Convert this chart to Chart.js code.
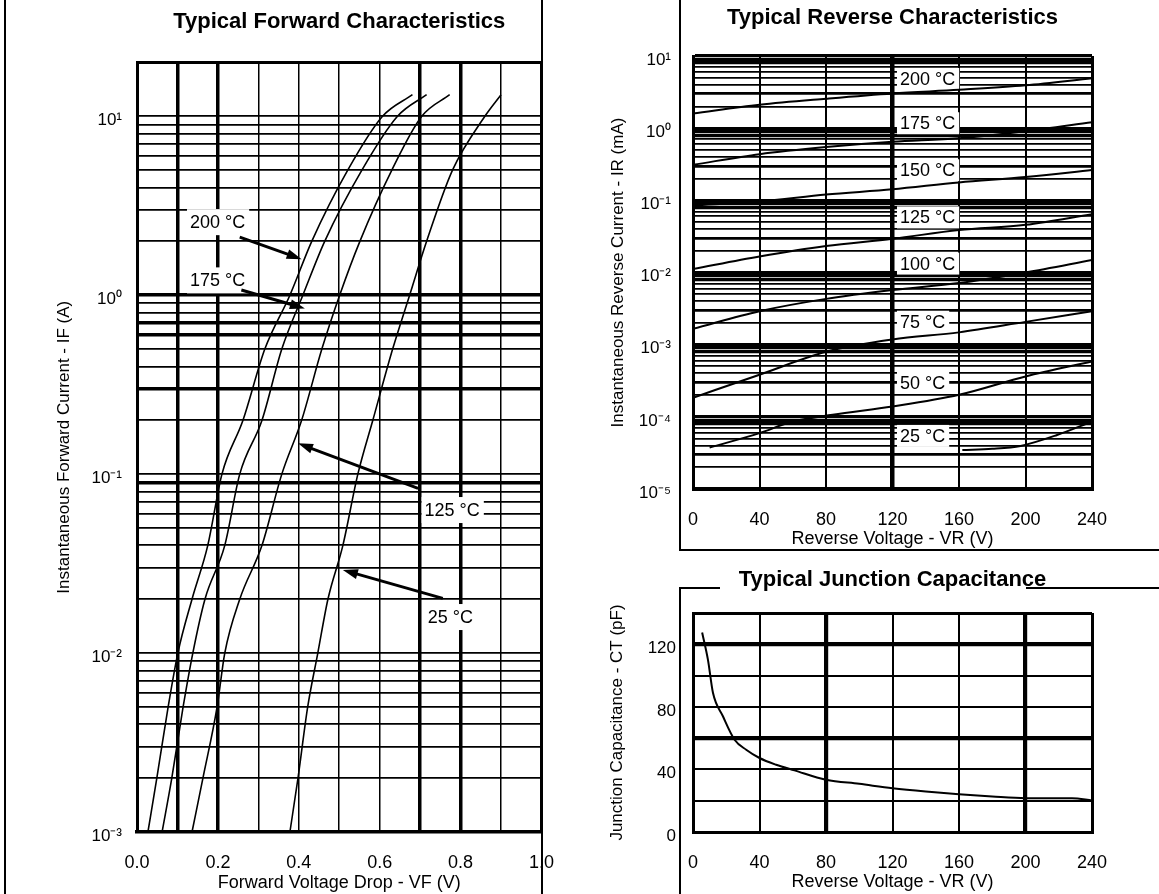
<!DOCTYPE html>
<html>
<head>
<meta charset="utf-8">
<script src="https://cdn.jsdelivr.net/npm/chart.js@4.4.1/dist/chart.umd.min.js"></script>
<style>
  html, body { margin: 0; padding: 0; background: #fff; }
  #page { position: relative; width: 1159px; height: 894px; overflow: hidden; background: #fff; }
  canvas { position: absolute; }
  .rule { position: absolute; background: #000; z-index: 2; }
</style>
</head>
<body>
<div id="page">
  <canvas id="fwd" width="574" height="894" style="left:0;top:0"></canvas>
  <canvas id="rev" width="569" height="552" style="left:590px;top:0"></canvas>
  <canvas id="cap" width="569" height="334" style="left:590px;top:560px"></canvas>
  <!-- page frame lines of the scanned sheet -->
  <div class="rule" style="left:4px;top:0;width:2px;height:894px"></div>
  <div class="rule" style="left:541px;top:0;width:2px;height:894px"></div>
  <div class="rule" style="left:679px;top:0;width:2px;height:550px"></div>
  <div class="rule" style="left:679px;top:549px;width:480px;height:2px"></div>
  <div class="rule" style="left:679px;top:587px;width:2px;height:307px"></div>
  <div class="rule" style="left:679px;top:587px;width:41px;height:2px"></div>
  <div class="rule" style="left:1026px;top:587px;width:133px;height:2px"></div>
</div>
<script>
// ---- forward characteristics: voltage (V) read at each current (A)
const fwdCurrent = [0.001, 0.002, 0.005, 0.01, 0.02, 0.04, 0.1, 0.2, 0.5, 1, 2, 5, 10, 13.2];
const fwd200 = [0.027, 0.049, 0.077, 0.101, 0.136, 0.175, 0.21, 0.262, 0.316, 0.378, 0.432, 0.521, 0.607, 0.681];
const fwd175 = [0.062, 0.086, 0.114, 0.138, 0.168, 0.217, 0.254, 0.309, 0.358, 0.41, 0.464, 0.556, 0.644, 0.716];
const fwd125 = [0.136, 0.163, 0.198, 0.217, 0.254, 0.309, 0.358, 0.407, 0.457, 0.501, 0.551, 0.63, 0.704, 0.773];
const fwd25 = [0.378, 0.398, 0.422, 0.447, 0.472, 0.509, 0.546, 0.583, 0.632, 0.674, 0.716, 0.78, 0.86, 0.9];
const fwdVoltTicks = [0, 0.2, 0.4, 0.6, 0.8, 1.0];

// ---- reverse characteristics: current (mA) against reverse voltage (V)
const revVolt = [0, 40, 80, 120, 160, 200, 240];
const rev200 = [1.6, 2.11, 2.56, 3.03, 3.4, 3.92, 4.92];
const rev175 = [0.311, 0.436, 0.547, 0.647, 0.724, 0.908, 1.205];
const rev150 = [0.085, 0.096, 0.12, 0.142, 0.177, 0.21, 0.263];
const rev125 = [0.0112, 0.0167, 0.0233, 0.0293, 0.0388, 0.0458, 0.0643];
const rev100 = [0.00166, 0.00291, 0.00431, 0.00571, 0.00715, 0.01, 0.0149];
const rev75 = [0.000184, 0.000383, 0.000796, 0.00118, 0.00148, 0.00207, 0.00291];
const rev50Volt = [10, 40, 60, 84, 120, 160, 200, 240];
const rev50 = [0.0000375, 0.0000594, 0.000086, 0.000107, 0.000139, 0.000202, 0.000363, 0.000586];
const rev25Volt = [162, 180, 197, 219, 240];
const rev25 = [0.0000348, 0.000036, 0.0000395, 0.000056, 0.000086];
const revVoltTicks = [0, 40, 80, 120, 160, 200, 240];

// ---- junction capacitance (pF) against reverse voltage (V)
const capVolt = [5.5, 9, 12, 18, 25, 32, 40, 50, 61, 80, 100, 120, 140, 160, 180, 200, 228, 240];
const capPf = [127.5, 110, 89, 74, 59, 52.6, 47.3, 43, 39.4, 33.4, 30.8, 28, 25.9, 24.2, 22.7, 21.6, 21.6, 20.1];
const capTicks = [0, 40, 80, 120];

const FONT = '"Liberation Sans", Arial, Helvetica, sans-serif';
Chart.defaults.font.family = FONT;
Chart.defaults.font.size = 17;
Chart.defaults.color = '#000';
const XFONT = {size: 18};

const SUP = {'-': '\u207B', '0': '\u2070', '1': '\u00B9', '2': '\u00B2', '3': '\u00B3', '4': '\u2074', '5': '\u2075'};
function decadeLabel(v) {
  const e = Math.round(Math.log10(v));
  if (Math.abs(v / Math.pow(10, e) - 1) > 1e-6) return '';
  return '10' + String(e).split('').map(c => SUP[c]).join('');
}
// every 1..9 line of each decade, like log paper
function logGrid(fromExp, toExp, extra) {
  const out = [];
  for (let e = fromExp; e < toExp; e++) {
    for (let m = 1; m <= 9; m++) out.push(+(m * Math.pow(10, e)).toPrecision(3));
  }
  return out.concat(extra);
}
function mantissa(v) {
  return Math.round(v / Math.pow(10, Math.floor(Math.log10(v) + 1e-9)));
}
function near(list, v) {
  return list.some(t => Math.abs(t - v) <= Math.abs(t) * 1e-3 + 1e-9);
}
function curve(xs, ys, w) {
  return {
    data: xs.map((x, i) => ({x: x, y: ys[i]})),
    borderColor: '#000', borderWidth: w, pointRadius: 0,
    cubicInterpolationMode: 'monotone', fill: false
  };
}

// white label boxes and the pointer arrows of the datasheet
const notesPlugin = {
  id: 'notes',
  beforeDatasetsDraw(chart, args, opts) {
    const {ctx, scales: {x, y}} = chart;
    ctx.save();
    ctx.font = '18px ' + FONT;
    ctx.textBaseline = 'middle';
    (opts.labels || []).forEach(l => {
      const px = x.getPixelForValue(l.x), py = y.getPixelForValue(l.y);
      const w = ctx.measureText(l.text).width;
      ctx.fillStyle = '#fff';
      ctx.fillRect(px - 3, py - opts.boxH / 2, w + 7, opts.boxH);
      ctx.fillStyle = '#000';
      ctx.fillText(l.text, px, py + 1);
    });
    ctx.restore();
  },
  afterDatasetsDraw(chart, args, opts) {
    const {ctx, scales: {x, y}} = chart;
    ctx.save();
    ctx.strokeStyle = '#000';
    ctx.fillStyle = '#000';
    ctx.lineWidth = 3;
    (opts.arrows || []).forEach(a => {
      const x1 = x.getPixelForValue(a.from[0]), y1 = y.getPixelForValue(a.from[1]);
      const x2 = x.getPixelForValue(a.to[0]), y2 = y.getPixelForValue(a.to[1]);
      const ang = Math.atan2(y2 - y1, x2 - x1);
      const c = Math.cos(ang), s = Math.sin(ang), head = 15, hw = 5;
      ctx.beginPath();
      ctx.moveTo(x1, y1);
      ctx.lineTo(x2 - c * head * 0.7, y2 - s * head * 0.7);
      ctx.stroke();
      ctx.beginPath();
      ctx.moveTo(x2, y2);
      ctx.lineTo(x2 - c * head + s * hw, y2 - s * head - c * hw);
      ctx.lineTo(x2 - c * head - s * hw, y2 - s * head + c * hw);
      ctx.closePath();
      ctx.fill();
    });
    ctx.restore();
  }
};

const common = {
  responsive: false,
  animation: false,
  plugins: {legend: {display: false}, tooltip: {enabled: false}}
};
function titleOpts(text, top, bottom) {
  return {display: true, text: text, fullSize: false, color: '#000',
          font: {size: 22, weight: 'bold'}, padding: {top: top, bottom: bottom}};
}

// ---------------- Typical Forward Characteristics
const fwdGrid = logGrid(-3, 1, [10, 20]);
new Chart(document.getElementById('fwd'), {
  type: 'line',
  data: {datasets: [
    curve(fwd200, fwdCurrent, 1.6),
    curve(fwd175, fwdCurrent, 1.6),
    curve(fwd125, fwdCurrent, 1.6),
    curve(fwd25, fwdCurrent, 1.6)
  ]},
  options: Object.assign({}, common, {
    layout: {padding: {left: 0, right: 16, top: 0, bottom: 0}},
    plugins: Object.assign({}, common.plugins, {
      title: titleOpts('Typical Forward Characteristics', 9, 27),
      notes: {
        boxH: 26,
        labels: [
          {text: '200 \u00B0C', x: 0.131, y: 2.56},
          {text: '175 \u00B0C', x: 0.131, y: 1.21},
          {text: '125 \u00B0C', x: 0.711, y: 0.063},
          {text: '25 \u00B0C', x: 0.719, y: 0.0159}
        ],
        arrows: [
          {from: [0.254, 2.11], to: [0.407, 1.59]},
          {from: [0.258, 1.07], to: [0.415, 0.843]},
          {from: [0.695, 0.0832], to: [0.398, 0.1486]},
          {from: [0.756, 0.0202], to: [0.509, 0.0291]}
        ]
      }
    }),
    scales: {
      x: {
        type: 'linear', min: 0, max: 1,
        afterFit: s => { s.height = 62; },
        ticks: {stepSize: 0.1, padding: 20, maxRotation: 0, autoSkip: false, font: XFONT,
                callback: v => near(fwdVoltTicks, v) ? v.toFixed(1) : ''},
        grid: {color: '#000', drawTicks: false,
               lineWidth: c => {
                 const v = c.tick.value;
                 if (near([0.1, 0.2, 0.7, 0.8], v)) return 3.5;
                 if (near([0], v)) return 3;
                 if (near([1], v)) return 2.5;
                 return 1.5;
               }},
        border: {color: '#000', width: 3.5},
        title: {display: true, text: 'Forward Voltage Drop - VF (V)', font: XFONT, padding: {top: 0, bottom: 0}}
      },
      y: {
        type: 'logarithmic', min: 0.001, max: 20,
        afterBuildTicks: s => { s.ticks = fwdGrid.map(v => ({value: v})); },
        afterFit: s => { s.width = 137; },
        ticks: {autoSkip: false, padding: 15, labelOffset: 4, callback: v => decadeLabel(v)},
        grid: {color: '#000', drawTicks: false,
               lineWidth: c => {
                 const v = c.tick.value;
                 if (near([20], v)) return 3;
                 if (near([1, 0.7, 0.6, 0.3, 0.09], v)) return 3.5;
                 return 1.8;
               }},
        border: {color: '#000', width: 3},
        title: {display: true, text: 'Instantaneous Forward Current - IF (A)', padding: {top: 54, bottom: 0}}
      }
    }
  }),
  plugins: [notesPlugin]
});

// ---------------- Typical Reverse Characteristics
const revGrid = logGrid(-5, 1, [10]);
new Chart(document.getElementById('rev'), {
  type: 'line',
  data: {datasets: [
    curve(revVolt, rev200, 2),
    curve(revVolt, rev175, 2),
    curve(revVolt, rev150, 2),
    curve(revVolt, rev125, 2),
    curve(revVolt, rev100, 2),
    curve(revVolt, rev75, 2),
    curve(rev50Volt, rev50, 2),
    curve(rev25Volt, rev25, 2)
  ]},
  options: Object.assign({}, common, {
    layout: {padding: {left: 0, right: 67, top: 0, bottom: 0}},
    plugins: Object.assign({}, common.plugins, {
      title: titleOpts('Typical Reverse Characteristics', 4.4, 25.2),
      notes: {
        boxH: 22,
        labels: [
          {text: '200 \u00B0C', x: 124.5, y: 4.8},
          {text: '175 \u00B0C', x: 124.5, y: 1.17},
          {text: '150 \u00B0C', x: 124.5, y: 0.261},
          {text: '125 \u00B0C', x: 124.5, y: 0.058},
          {text: '100 \u00B0C', x: 124.5, y: 0.0133},
          {text: '75 \u00B0C', x: 124.5, y: 0.00208},
          {text: '50 \u00B0C', x: 124.5, y: 0.000297},
          {text: '25 \u00B0C', x: 124.5, y: 0.0000544}
        ]
      }
    }),
    scales: {
      x: {
        type: 'linear', min: 0, max: 240,
        afterFit: s => { s.height = 63; },
        ticks: {stepSize: 40, padding: 20, maxRotation: 0, autoSkip: false, font: XFONT,
                callback: v => near(revVoltTicks, v) ? String(v) : ''},
        grid: {color: '#000', drawTicks: false,
               lineWidth: c => {
                 const v = c.tick.value;
                 if (v === 120) return 4.5;
                 if (v === 0 || v === 240) return 3;
                 return 2;
               }},
        border: {color: '#000', width: 3},
        title: {display: true, text: 'Reverse Voltage - VR (V)', font: XFONT, padding: {top: 0, bottom: 2}}
      },
      y: {
        type: 'logarithmic', min: 0.00001, max: 10,
        afterBuildTicks: s => { s.ticks = revGrid.map(v => ({value: v})); },
        afterFit: s => { s.width = 103; },
        ticks: {autoSkip: false, padding: 22, labelOffset: 4, callback: v => decadeLabel(v)},
        grid: {color: '#000', drawTicks: false,
               lineWidth: c => {
                 const m = mantissa(c.tick.value);
                 if (m === 1 || m === 8 || m === 9) return 3.2;
                 if (m === 3) return 2.8;
                 return 1.8;
               }},
        border: {color: '#000', width: 3},
        title: {display: true, text: 'Instantaneous Reverse Current - IR (mA)', padding: {top: 18, bottom: 0}}
      }
    }
  }),
  plugins: [notesPlugin]
});

// ---------------- Typical Junction Capacitance
new Chart(document.getElementById('cap'), {
  type: 'line',
  data: {datasets: [curve(capVolt, capPf, 2)]},
  options: Object.assign({}, common, {
    layout: {padding: {left: 0, right: 67, top: 0, bottom: 0}},
    plugins: Object.assign({}, common.plugins, {
      title: titleOpts('Typical Junction Capacitance', 6.8, 19.8)
    }),
    scales: {
      x: {
        type: 'linear', min: 0, max: 240,
        afterFit: s => { s.height = 62; },
        ticks: {stepSize: 40, padding: 20, maxRotation: 0, autoSkip: false, font: XFONT,
                callback: v => near(revVoltTicks, v) ? String(v) : ''},
        grid: {color: '#000', drawTicks: false,
               lineWidth: c => {
                 const v = c.tick.value;
                 if (v === 80 || v === 200) return 4.2;
                 if (v === 0 || v === 240) return 3;
                 return 2;
               }},
        border: {color: '#000', width: 3},
        title: {display: true, text: 'Reverse Voltage - VR (V)', font: XFONT, padding: {top: 0, bottom: 1}}
      },
      y: {
        type: 'linear', min: 0, max: 140,
        afterFit: s => { s.width = 103; },
        ticks: {stepSize: 20, autoSkip: false, padding: 17, labelOffset: 4,
                callback: v => near(capTicks, v) ? String(v) : ''},
        grid: {color: '#000', drawTicks: false,
               lineWidth: c => {
                 const v = c.tick.value;
                 if (v === 60 || v === 120) return 4.2;
                 if (v === 140) return 3;
                 return 2;
               }},
        border: {color: '#000', width: 3},
        title: {display: true, text: 'Junction Capacitance - CT (pF)', padding: {top: 17, bottom: 0}}
      }
    }
  })
});
</script>
</body>
</html>
